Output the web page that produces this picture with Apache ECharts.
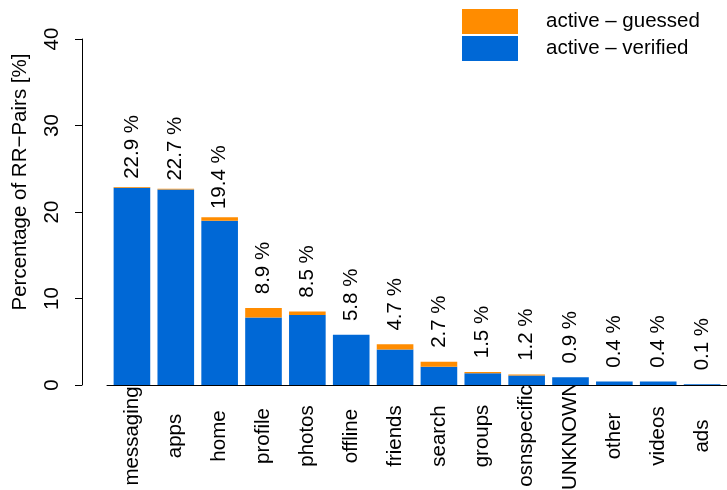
<!DOCTYPE html>
<html>
<head>
<meta charset="utf-8">
<script src="https://cdn.jsdelivr.net/npm/echarts@6/dist/echarts.min.js"></script>
<style>
  html, body { margin: 0; padding: 0; background: #ffffff; }
  #chart { width: 727px; height: 490px; }
</style>
</head>
<body>
<div id="chart"></div>
<script>
// Request categories and the share of RR-pairs per category (percent)
const categories = ['messaging', 'apps', 'home', 'profile', 'photos', 'offline', 'friends',
                    'search', 'groups', 'osnspecific', 'UNKNOWN', 'other', 'videos', 'ads'];
const verified = [22.8, 22.6, 19.0, 7.8, 8.1, 5.8, 4.1, 2.1, 1.35, 1.1, 0.9, 0.4, 0.4, 0.1];
const guessed  = [0.1, 0.1, 0.4, 1.1, 0.4, 0, 0.6, 0.6, 0.15, 0.1, 0, 0, 0, 0];
const seriesNames = ['active – verified', 'active – guessed'];
const yMin = 0, yMax = 40, yStep = 10;
const yTitle = 'Percentage of RR−Pairs [%]';

const FONT = '"Liberation Sans", Arial, Helvetica, sans-serif';
const FS = 20.5;
const BLUE = '#0068D6';
const ORANGE = '#FF8C00';

const chart = echarts.init(document.getElementById('chart'), null, { renderer: 'canvas' });

chart.setOption({
  animation: false,
  backgroundColor: '#ffffff',
  textStyle: { fontFamily: FONT, color: '#000' },
  grid: [
    { left: 110, right: 3, top: 39, bottom: 105, outerBoundsMode: 'none' },
    { left: 107, right: 0, top: 39, bottom: 105, outerBoundsMode: 'none' }
  ],
  legend: {
    orient: 'vertical',
    left: 462, top: 9,
    padding: 0,
    itemWidth: 56, itemHeight: 25, itemGap: 2,
    icon: 'rect',
    data: [seriesNames[1], seriesNames[0]],
    textStyle: { fontFamily: FONT, fontSize: FS, color: '#000', padding: [0, 0, 0, 23] }
  },
  xAxis: [
    {
      type: 'category', gridIndex: 0, data: categories,
      axisLine: { show: false }, axisTick: { show: false },
      // category names are centred on a line below the baseline
      axisLabel: {
        rotate: 90, margin: 51, interval: 0, align: 'center', verticalAlign: 'middle',
        fontFamily: FONT, fontSize: FS, color: '#000'
      }
    },
    {
      // baseline drawn across the full width, on top of the bars
      type: 'value', gridIndex: 1, min: 0, max: 1, z: 10,
      axisLine: { show: true, lineStyle: { color: '#000', width: 1 } },
      axisTick: { show: false }, axisLabel: { show: false }, splitLine: { show: false }
    }
  ],
  yAxis: [
    {
      type: 'value', gridIndex: 0, min: yMin, max: yMax, interval: yStep,
      offset: 28,
      axisLine: { show: true, lineStyle: { color: '#000', width: 1 } },
      axisTick: { show: true, length: 7, lineStyle: { color: '#000' } },
      splitLine: { show: false },
      axisLabel: {
        rotate: 90, margin: 19, align: 'center', verticalAlign: 'bottom',
        fontFamily: FONT, fontSize: FS, color: '#000'
      }
    },
    { type: 'value', gridIndex: 1, min: 0, max: 1, show: false }
  ],
  graphic: [
    {
      type: 'text', x: 20, y: 182, rotation: Math.PI / 2,
      style: {
        text: yTitle, fontFamily: FONT, fontSize: FS, fill: '#000',
        align: 'center', verticalAlign: 'middle'
      }
    }
  ],
  series: [
    {
      name: seriesNames[0], type: 'bar', stack: 'total',
      xAxisIndex: 0, yAxisIndex: 0,
      data: verified, barCategoryGap: '16.5%',
      itemStyle: { color: BLUE }
    },
    {
      name: seriesNames[1], type: 'bar', stack: 'total',
      xAxisIndex: 0, yAxisIndex: 0,
      data: guessed, barCategoryGap: '16.5%',
      itemStyle: { color: ORANGE },
      label: {
        show: true, position: 'top', distance: 40, rotate: 90,
        align: 'center', verticalAlign: 'middle',
        fontFamily: FONT, fontSize: FS, color: '#000',
        formatter: p => (verified[p.dataIndex] + guessed[p.dataIndex]).toFixed(1) + ' %'
      }
    }
  ]
});
</script>
</body>
</html>
